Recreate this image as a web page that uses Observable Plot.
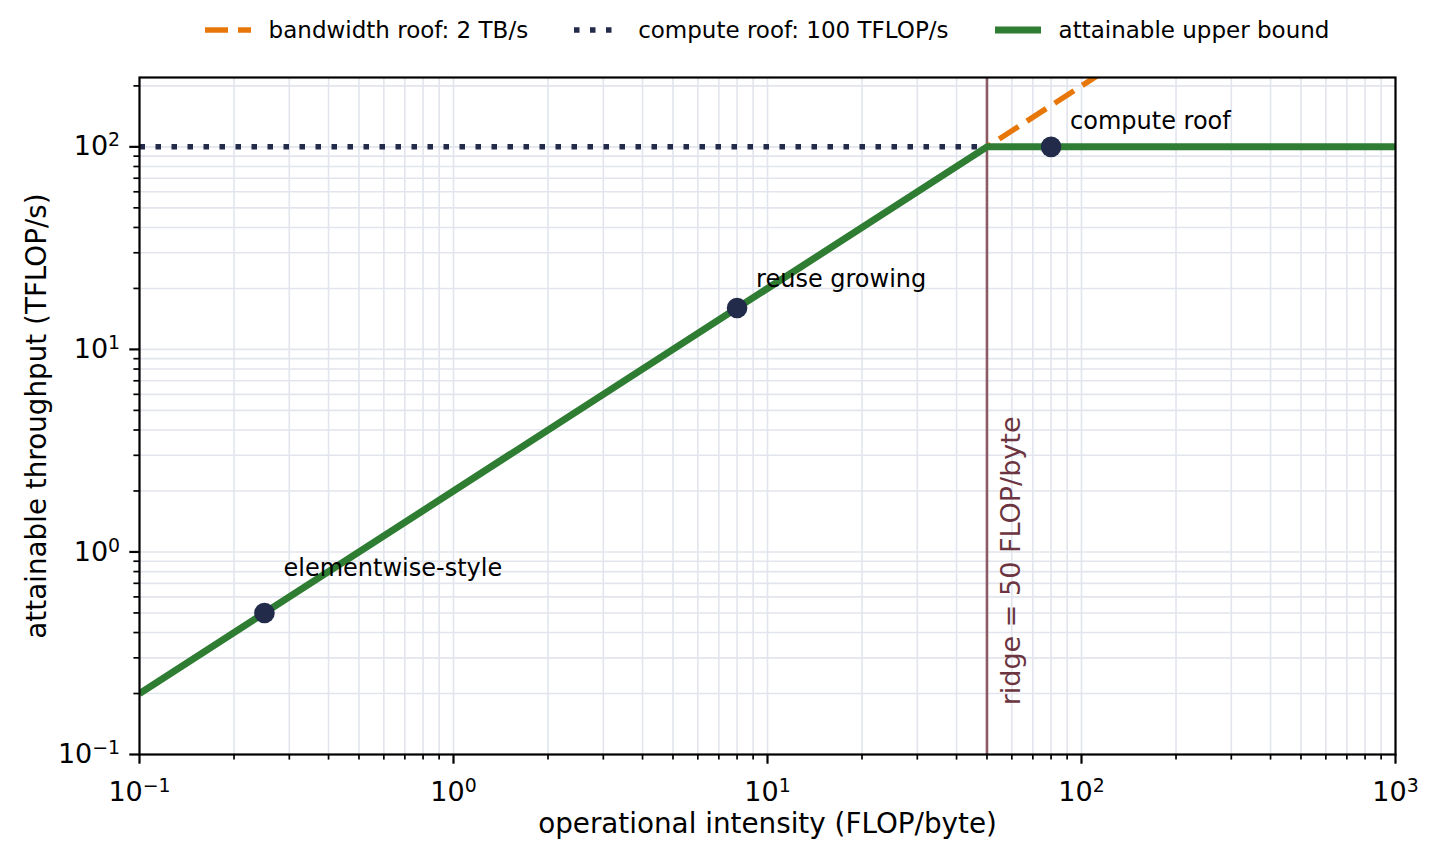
<!DOCTYPE html>
<html>
<head>
<meta charset="utf-8">
<script src="https://cdn.jsdelivr.net/npm/d3@7"></script>
<script src="https://cdn.jsdelivr.net/npm/@observablehq/plot@0.6"></script>
<style>
  body { margin: 0; background: #fff; font-family: "DejaVu Sans", sans-serif; }
  #legend {
    height: 60px; display: flex; justify-content: center; align-items: center;
    gap: 46px; margin-left: 139px; margin-right: 42px; font-size: 23px; color: #000;
  }
  #legend .item { display: flex; align-items: center; gap: 18px; white-space: nowrap; }
  #legend svg { display: block; }
</style>
</head>
<body>
<div id="legend"></div>
<div id="chart"></div>
<script>
// Roofline model parameters
const bandwidthTBs = 2;      // memory bandwidth, TB/s
const peakTFLOPs = 100;      // compute peak, TFLOP/s
const ridge = peakTFLOPs / bandwidthTBs; // FLOP/byte where the two roofs meet

// Axis extents
const xDomain = [0.1, 1000];
const yDomain = [0.1, 220];

// Example kernels on the roof
const kernelNames = ["elementwise-style", "reuse growing", "compute roof"];
const kernelIntensity = [0.25, 8, 80];
const kernelThroughput = [0.5, 16, 100];

// Tick values
const xMajor = [0.1, 1, 10, 100, 1000];
const yMajor = [0.1, 1, 10, 100];

const minorTicks = (majors, [lo, hi]) =>
  majors.flatMap(m => [2, 3, 4, 5, 6, 7, 8, 9].map(k => +(m * k).toPrecision(6)))
        .filter(v => v > lo && v < hi);
const xMinor = minorTicks(xMajor, xDomain);
const yMinor = minorTicks(yMajor, yDomain);

// Roof lines
const roofX = [xDomain[0], ridge, xDomain[1]];
const bandwidthRoof = xDomain.map(x => ({x, y: bandwidthTBs * x}));
const computeRoof = xDomain.map(x => ({x, y: peakTFLOPs}));
const attainable = roofX.map(x => ({x, y: Math.min(bandwidthTBs * x, peakTFLOPs)}));

const kernels = kernelNames.map((name, i) => ({name, x: kernelIntensity[i], y: kernelThroughput[i]}));

const colors = {
  bandwidth: "#e8770a",
  compute: "#232b4a",
  attainable: "#2e7d32",
  ridgeLine: "#8b5b65",
  ridgeText: "#6b3440",
  point: "#232b4a",
  grid: "#e2e5ed"
};

// Legend
const legendItems = [
  {label: `bandwidth roof: ${bandwidthTBs} TB/s`, stroke: colors.bandwidth, width: 5.5, dash: "23,10"},
  {label: `compute roof: ${peakTFLOPs} TFLOP/s`, stroke: colors.compute, width: 5.5, dash: "5.5,10.5"},
  {label: "attainable upper bound", stroke: colors.attainable, width: 7, dash: null}
];
const legend = document.getElementById("legend");
for (const it of legendItems) {
  const item = document.createElement("div");
  item.className = "item";
  item.innerHTML =
    `<svg width="46" height="16"><line x1="0" x2="46" y1="8" y2="8" stroke="${it.stroke}" stroke-width="${it.width}"` +
    (it.dash ? ` stroke-dasharray="${it.dash}"` : "") + ` stroke-linecap="butt"/></svg>` +
    `<span>${it.label}</span>`;
  legend.appendChild(item);
}

const powLabel = d => "10^" + Math.round(Math.log10(d));

// Per-label vertical offset of the annotation baseline above its point (px)
const labelDy = {"elementwise-style": -37, "reuse growing": -21, "compute roof": -18};

const chart = Plot.plot({
  width: 1437,
  height: 801,
  marginLeft: 139,
  marginRight: 42,
  marginTop: 17,
  marginBottom: 107,
  style: {fontFamily: '"DejaVu Sans", sans-serif', fontSize: "27px", color: "#000", background: "#fff", overflow: "visible"},
  x: {type: "log", domain: xDomain, axis: null},
  y: {type: "log", domain: yDomain, axis: null},
  marks: [
    Plot.gridX(xMinor.concat(xMajor), {stroke: colors.grid, strokeOpacity: 1, strokeWidth: 1.6}),
    Plot.gridY(yMinor.concat(yMajor), {stroke: colors.grid, strokeOpacity: 1, strokeWidth: 1.6}),
    Plot.ruleX([ridge], {stroke: colors.ridgeLine, strokeWidth: 2.6}),
    Plot.line(bandwidthRoof, {x: "x", y: "y", stroke: colors.bandwidth, strokeWidth: 5.5, strokeDasharray: "23,10", strokeLinecap: "butt", clip: true}),
    Plot.line(computeRoof, {x: "x", y: "y", stroke: colors.compute, strokeWidth: 5.5, strokeDasharray: "5.5,10.5", strokeLinecap: "butt", clip: true}),
    Plot.line(attainable, {x: "x", y: "y", stroke: colors.attainable, strokeWidth: 7, strokeLinecap: "butt", clip: true}),
    Plot.dot(kernels, {x: "x", y: "y", r: 10.3, fill: colors.point, stroke: null}),
    ...kernels.map(k => Plot.text([k], {
      x: "x", y: "y", text: "name", dx: 19, dy: labelDy[k.name],
      textAnchor: "start", lineAnchor: "bottom", fontSize: 24, fill: "#000"
    })),
    Plot.text([`ridge = ${ridge} FLOP/byte`], {
      x: () => ridge * 1.2, y: () => 0.175, text: d => d, rotate: -90,
      textAnchor: "start", fontSize: 27, fill: colors.ridgeText
    }),
    Plot.frame({stroke: "#000", strokeWidth: 2.2}),
    Plot.axisX(xMajor, {tickSize: 9.7, strokeWidth: 2.2, tickPadding: 18, tickFormat: powLabel, fontSize: 27, label: null}),
    Plot.axisX(xMinor, {tickSize: 5.6, strokeWidth: 1.7, tickFormat: () => "", label: null}),
    Plot.axisY(yMajor, {tickSize: 9.7, strokeWidth: 2.2, tickPadding: 9.7, tickFormat: powLabel, fontSize: 27, label: null}),
    Plot.axisY(yMinor, {tickSize: 5.6, strokeWidth: 1.7, tickFormat: () => "", label: null}),
    Plot.text(["operational intensity (FLOP/byte)"], {
      frameAnchor: "bottom", text: d => d, dy: 78, textAnchor: "middle", lineAnchor: "bottom", fontSize: 27.8, fill: "#000"
    }),
    Plot.text(["attainable throughput (TFLOP/s)"], {
      frameAnchor: "left", text: d => d, rotate: -90, dx: -94, textAnchor: "middle", lineAnchor: "bottom", fontSize: 27.8, fill: "#000"
    })
  ]
});

// Typeset powers of ten with a raised exponent
chart.querySelectorAll("text").forEach(t => {
  const m = /^10\^(-?\d+)$/.exec(t.textContent);
  if (!m) return;
  t.textContent = "10";
  const sup = document.createElementNS("http://www.w3.org/2000/svg", "tspan");
  sup.setAttribute("font-size", "70%");
  sup.setAttribute("dy", "-0.48em");
  sup.textContent = m[1].replace("-", "\u2212");
  t.appendChild(sup);
});

document.getElementById("chart").appendChild(chart);
</script>
</body>
</html>
